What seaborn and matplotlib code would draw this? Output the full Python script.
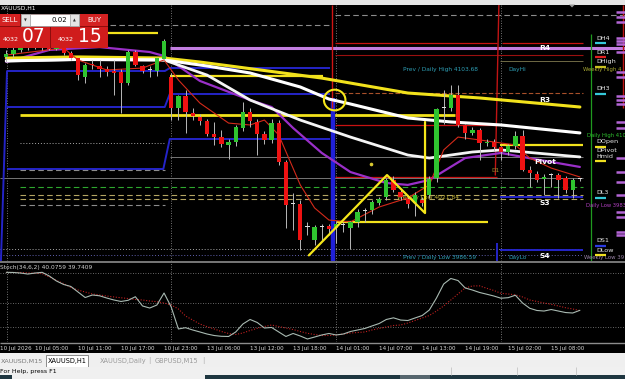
import numpy as np
import matplotlib
matplotlib.use("Agg")
import matplotlib.pyplot as plt
import matplotlib.transforms as mtransforms
from matplotlib.patches import Rectangle, Ellipse, Polygon
import seaborn as sns

# ---------------- data (H1 XAUUSD) ----------------
bars = list(range(81))
opens = [4112.0, 4114.0, 4116.0, 4118.5, 4119.5, 4117.5, 4118.5, 4117.0, 4118.1, 4114.4,
         4111.2, 4099.3, 4107.5, 4106.2, 4104.3, 4103.0, 4102.4, 4095.5, 4115.0, 4106.2,
         4103.5, 4103.0, 4110.6, 4099.3, 4079.8, 4087.3, 4076.6, 4074.1, 4071.6, 4063.4,
         4061.5, 4056.5, 4058.4, 4067.2, 4077.3, 4071.0, 4063.4, 4059.7, 4070.3, 4045.8,
         4019.6, 4019.4, 4005.2, 3996.8, 4004.9, 4005.6, 4004.3, 4006.2, 4004.3, 4008.1,
         4015.0, 4015.6, 4020.0, 4023.8, 4034.5, 4027.0, 4022.5, 4020.0, 4021.9, 4025.1,
         4035.8, 4079.8, 4079.8, 4088.0, 4069.1, 4064.1, 4066.0, 4057.8, 4058.4, 4055.3,
         4052.1, 4055.9, 4062.2, 4040.8, 4038.3, 4035.1, 4037.5, 4037.6, 4035.8, 4028.2,
         4035.0]
highs = [4116.0, 4118.0, 4120.0, 4121.0, 4122.0, 4120.5, 4121.0, 4120.0, 4120.0, 4115.5,
         4112.0, 4108.0, 4110.0, 4110.0, 4106.0, 4110.0, 4104.0, 4116.3, 4116.0, 4107.0,
         4106.0, 4112.0, 4123.2, 4101.8, 4088.0, 4091.0, 4080.0, 4076.0, 4073.0, 4071.0,
         4066.0, 4060.0, 4069.0, 4083.5, 4080.0, 4073.0, 4065.0, 4073.0, 4072.0, 4047.0,
         4026.0, 4022.0, 4008.0, 4006.0, 4007.0, 4007.0, 4009.0, 4008.0, 4009.0, 4016.0,
         4017.0, 4022.0, 4024.0, 4036.0, 4037.0, 4029.0, 4024.0, 4027.0, 4024.0, 4037.0,
         4080.0, 4091.0, 4094.0, 4094.0, 4070.0, 4068.0, 4067.0, 4060.0, 4060.0, 4056.0,
         4057.0, 4065.0, 4066.0, 4043.0, 4040.0, 4038.0, 4039.0, 4039.0, 4037.0, 4036.0,
         4036.0]
lows = [4109.0, 4112.0, 4115.0, 4116.5, 4117.0, 4116.5, 4116.5, 4116.0, 4113.0, 4110.0,
        4097.4, 4095.5, 4104.0, 4099.3, 4100.0, 4088.0, 4076.6, 4094.2, 4106.0, 4102.0,
        4099.0, 4100.0, 4110.0, 4072.0, 4072.2, 4064.1, 4072.0, 4069.0, 4062.0, 4056.5,
        4055.0, 4047.5, 4056.0, 4065.0, 4068.0, 4050.2, 4057.0, 4058.0, 4044.0, 4004.3,
        4003.1, 3990.5, 4000.0, 3993.6, 3997.0, 4000.0, 3995.0, 4002.0, 3991.0, 4005.0,
        4008.0, 4013.0, 4019.0, 4022.0, 4027.0, 4022.0, 4017.0, 4012.0, 4018.0, 4023.0,
        4033.0, 4070.0, 4078.0, 4068.0, 4060.0, 4063.0, 4047.1, 4056.0, 4053.0, 4047.0,
        4050.0, 4054.0, 4040.0, 4030.0, 4033.0, 4025.0, 4030.0, 4023.0, 4026.0, 4023.0,
        4034.0]
closes = [4114.0, 4116.0, 4118.5, 4119.5, 4117.5, 4118.5, 4117.0, 4118.0, 4114.4, 4111.2,
          4100.5, 4106.8, 4107.0, 4104.3, 4102.4, 4101.8, 4095.5, 4115.0, 4106.8, 4103.0,
          4103.8, 4111.2, 4122.0, 4079.8, 4087.3, 4077.3, 4074.7, 4071.6, 4063.4, 4061.5,
          4057.1, 4058.4, 4067.8, 4077.3, 4071.6, 4063.4, 4059.7, 4070.3, 4045.8, 4018.8,
          4019.2, 3996.8, 4004.9, 4004.9, 4005.1, 4003.7, 4006.8, 4006.4, 4008.1, 4014.4,
          4015.2, 4020.6, 4022.5, 4034.5, 4028.2, 4023.8, 4019.4, 4025.1, 4020.0, 4035.1,
          4079.2, 4080.0, 4088.0, 4069.1, 4064.1, 4066.0, 4057.8, 4058.4, 4055.3, 4052.1,
          4055.9, 4062.2, 4040.8, 4038.9, 4034.5, 4036.4, 4037.7, 4034.5, 4028.2, 4034.5,
          4035.1]

# moving averages (bar index, price)
ma_white1_x = [0, 10, 22, 28, 34, 41, 45, 48, 56, 62, 69, 80]
ma_white1_y = [4109.4, 4110.3, 4110.0, 4106.2, 4101.8, 4093.0, 4085.4, 4082.3, 4073.5, 4071.0, 4069.1, 4064.1]
ma_white2_x = [0, 10, 22, 28, 34, 41, 48, 56, 59, 65, 69, 80]
ma_white2_y = [4109.4, 4110.3, 4110.0, 4100.5, 4084.8, 4072.2, 4061.5, 4050.2, 4048.3, 4052.1, 4053.4, 4049.0]
ma_yellow_x = [0, 10, 22, 27, 44, 56, 66, 80]
ma_yellow_y = [4111.2, 4111.9, 4111.2, 4108.7, 4098.6, 4089.2, 4086.1, 4080.4]
ma_purple_x = [0, 6, 13, 20, 22, 27, 34, 37, 40, 44, 48, 53, 56, 59, 64, 69, 72, 80]
ma_purple_y = [4108.7, 4116.3, 4118.1, 4115.0, 4112.5, 4096.8, 4084.8, 4080.4, 4067.2, 4051.5,
               4039.5, 4032.6, 4031.4, 4034.5, 4048.3, 4051.5, 4049.0, 4042.7]
ma_red_x = [0, 8, 10, 14, 19, 22, 24, 27, 31, 34, 36, 38, 41, 43, 45, 48, 52, 56, 59, 61, 63, 66, 71, 73, 76, 80]
ma_red_y = [4113.1, 4117.5, 4110.0, 4103.7, 4104.9, 4110.0, 4097.4, 4082.9, 4070.3, 4069.1, 4072.2,
            4062.8, 4031.4, 4016.9, 4009.3, 4008.1, 4017.5, 4023.2, 4031.4, 4053.4, 4061.5, 4059.7,
            4056.5, 4048.3, 4042.0, 4036.4]

# stochastic (34,6,2)
stoch_main = [88.2, 88.0, 87.3, 86.0, 87.3, 88.2, 83.5, 77.2, 72.8, 70.3,
              63.3, 56.3, 59.5, 58.5, 55.7, 53.2, 51.3, 52.8, 57.3, 45.6,
              43.0, 46.8, 62.0, 44.3, 16.5, 18.1, 15.2, 12.7, 10.1, 8.2,
              7.2, 7.0, 12.7, 22.8, 28.5, 24.7, 17.7, 18.4, 12.7, 7.0,
              10.8, 7.6, 3.8, 6.3, 8.9, 10.8, 8.9, 10.1, 13.3, 15.2,
              17.1, 20.3, 23.4, 28.5, 30.6, 27.8, 27.2, 30.4, 33.5, 40.5,
              55.7, 73.4, 80.4, 77.8, 68.4, 65.8, 62.7, 60.5, 58.2, 55.4,
              56.1, 59.2, 49.4, 42.7, 39.9, 39.2, 41.1, 39.2, 37.3, 36.7,
              40.1]
stoch_signal = [88.0, 88.0, 88.0, 87.5, 87.0, 86.6, 82.3, 77.8, 74.0, 69.0,
                65.8, 63.3, 60.8, 59.5, 58.2, 57.0, 56.0, 55.0, 53.8, 53.2,
                51.9, 51.0, 49.4, 46.8, 41.8, 32.9, 27.8, 22.8, 19.4, 16.5,
                13.3, 10.8, 9.5, 11.4, 14.6, 17.3, 19.6, 21.5, 19.6, 17.7,
                15.8, 13.3, 11.0, 9.5, 8.2, 8.2, 8.9, 10.1, 11.4, 12.0,
                12.7, 15.2, 17.1, 19.0, 20.9, 21.5, 24.0, 27.2, 30.4, 33.5,
                39.2, 45.6, 53.2, 60.8, 68.4, 70.9, 71.1, 68.0, 65.2, 61.6,
                60.8, 59.7, 57.0, 53.2, 51.3, 49.4, 47.7, 45.6, 43.4, 41.8,
                39.7]

# horizontal level lines: price, first bar, last bar
lvl_price = [4138.3, 4132.0, 4126.9, 4120.7, 4120.7, 4117.5, 4113.1, 4109.3, 4104.9, 4103.0,
             4099.9, 4089.2, 4088.6, 4080.4, 4075.4, 4069.1, 4060.3, 4057.8, 4056.5, 4049.0,
             4041.4, 4040.8, 4036.4, 4035.8, 4030.1, 4025.1, 4022.5, 4023.8, 4018.8, 4008.1,
             3991.1, 3990.5, 3987.1]
lvl_start = [45.8, 14.5, 14.0, 45.8, 69.1, 22.8, 45.8, 68.9, 22.8, 0.1,
             22.8, 45.8, 22.8, 0.1, 1.9, 45.8, 22.8, 1.9, 68.9, 22.8,
             0.1, 1.9, 45.8, -0.9, 1.9, 1.9, 1.9, 68.9, 1.9, 46.1,
             -0.9, 68.9, -0.9]
lvl_end = [86.3, 45.1, 21.2, 68.4, 80.4, 86.3, 80.4, 80.4, 45.1, 22.1,
           44.2, 80.4, 45.1, 22.1, 62.6, 68.4, 45.1, 22.1, 80.4, 80.4,
           21.9, 22.1, 68.4, 80.4, 80.4, 80.4, 80.4, 80.4, 22.1, 67.2,
           80.4, 80.4, 80.4]
lvl_kind = ["gdash", "gdash", "yel", "red", "red", "purp", "dred", "thin", "blue", "blue",
            "yel", "brown", "blue", "blue", "yelw", "red", "blue", "dot", "yel", "grey",
            "blue", "gdash", "red", "grey", "green", "khaki", "khaki", "blue", "gdash", "yel",
            "dot", "blue", "bdot"]

# step connectors of the blue channel (bar, price pairs)
blue_steps = [([-0.75, 0.1], [3983.5, 4103.0]), ([21.9, 22.8], [4041.4, 4060.3]),
              ([22.1, 22.8], [4080.4, 4088.6]), ([22.1, 22.8], [4103.0, 4104.9])]

# hand drawn annotation
zig_x = [42.2, 53.1, 58.4, 58.4]
zig_y = [3987.1, 4037.6, 4013.7, 4071.0]
circle_xy = (45.8, 4084.8)

time_idx = [-0.85, 4, 10, 16, 22, 28, 34, 40, 46, 52, 58, 64, 70, 76]
time_labels = ["10 Jul 2026", "10 Jul 05:00", "10 Jul 11:00", "10 Jul 17:00", "10 Jul 23:00",
               "13 Jul 06:00", "13 Jul 12:00", "13 Jul 18:00", "14 Jul 01:00", "14 Jul 07:00",
               "14 Jul 13:00", "14 Jul 19:00", "15 Jul 02:00", "15 Jul 08:00"]

# ---------------- style ----------------
sns.set_theme(style="dark", rc={"axes.facecolor": "black", "figure.facecolor": "black",
                                 "axes.grid": False, "axes.edgecolor": "black"})
NARROW = ["Liberation Sans Narrow", "DejaVu Sans"]
plt.rcParams["font.family"] = NARROW

W, H = 625, 379
X0, BARPX = 6.3, 7.17
XL = ((0 - X0) / BARPX, (W - X0) / BARPX)
YL = (3983.54, 4144.57)

fig = plt.figure(figsize=(6.25, 3.79), dpi=100)


def px_axes(x0, y0, x1, y1):
    return fig.add_axes([x0 / W, 1 - y1 / H, (x1 - x0) / W, (y1 - y0) / H])


ax = px_axes(0, 5, 625, 261)
axs = px_axes(0, 263, 625, 342)
ov = px_axes(0, 0, 625, 379)
ov.set_xlim(0, W)
ov.set_ylim(H, 0)
ov.axis("off")
ov.set_zorder(10)

STY = {
    "gdash": dict(color="#8c8c8c", ls=(0, (5, 3)), lw=0.8),
    "yel": dict(color="#f2e21c", ls="-", lw=1.6),
    "yelw": dict(color="#f2e21c", ls="-", lw=2.0),
    "red": dict(color="#c81212", ls="-", lw=0.9),
    "dred": dict(color="#9a1010", ls="-", lw=0.8),
    "purp": dict(color="#c27ee0", ls="-", lw=2.2),
    "thin": dict(color="#807a50", ls="-", lw=0.6),
    "blue": dict(color="#2424c8", ls="-", lw=1.4),
    "brown": dict(color="#a8502a", ls=(0, (4, 2)), lw=0.8),
    "dot": dict(color="#a8a8a8", ls=(0, (1, 2)), lw=0.7),
    "grey": dict(color="#767676", ls="-", lw=0.7),
    "green": dict(color="#2ea82e", ls=(0, (5, 3)), lw=0.8),
    "khaki": dict(color="#b4a462", ls=(0, (5, 3)), lw=0.8),
    "bdot": dict(color="#6060b0", ls=(0, (1, 2)), lw=0.7),
}

# ---------------- main window ----------------
for p, s, e, k in zip(lvl_price, lvl_start, lvl_end, lvl_kind):
    ax.hlines(p, s, e, zorder=1, **STY[k])
for xs, ys in blue_steps:
    ax.plot(xs, ys, color="#2424c8", lw=1.4, zorder=1)

# vertical markers
ax.vlines(45.6, YL[0], 4086.0, color="#2020d8", lw=3.2, zorder=1.2)
ax.vlines(45.4, 4080.0, YL[1], color="#d01414", lw=1.0, zorder=1.2)
ax.plot([68.7, 68.2], [YL[1], 4037.6], color="#c01414", lw=1.0, zorder=1.2)
ax.vlines(68.4, YL[0], 3994.8, color="#2424c8", lw=1.4, zorder=1.2)
ax.vlines(81.5, YL[0], 4126.3, color="#1f9a1f", lw=0.9, zorder=1.2)
ax.vlines(86.0, 4080.0, YL[1], color="#c01414", lw=1.0, zorder=1.2)
for g in [0.1, 23, 46, 69]:
    ax.axvline(g, color="#9a9a9a", ls=(0, (1, 2)), lw=0.6, zorder=0.5)
    axs.axvline(g, color="#9a9a9a", ls=(0, (1, 2)), lw=0.6, zorder=0.5)

# moving averages
sns.lineplot(x=ma_purple_x, y=ma_purple_y, ax=ax, color="#9a2fc8", linewidth=1.6, estimator=None, sort=False, zorder=2)
sns.lineplot(x=ma_yellow_x, y=ma_yellow_y, ax=ax, color="#f2e21c", linewidth=2.2, estimator=None, sort=False, zorder=2.1)
sns.lineplot(x=ma_white2_x, y=ma_white2_y, ax=ax, color="#f4f4f4", linewidth=2.0, estimator=None, sort=False, zorder=2.2)
sns.lineplot(x=ma_white1_x, y=ma_white1_y, ax=ax, color="#ffffff", linewidth=2.2, estimator=None, sort=False, zorder=2.3)
sns.lineplot(x=ma_red_x, y=ma_red_y, ax=ax, color="#d42a1a", linewidth=0.8, estimator=None, sort=False, zorder=2.4)

# candles
o = np.array(opens)
c = np.array(closes)
hi = np.array(highs)
lo = np.array(lows)
xb = np.array(bars)
ax.vlines(xb, lo, hi, color="#b8b8b8", lw=0.7, zorder=3)
body_h = np.maximum(np.abs(c - o), 0.7)
body_b = np.minimum(o, c)
cols = np.where(np.abs(c - o) < 0.5, "#dcdcdc", np.where(c >= o, "#2fc42f", "#ee1212"))
ax.bar(xb, body_h, bottom=body_b, width=0.6, color=cols, linewidth=0, zorder=4)

# annotations
ax.plot(zig_x, zig_y, color="#f5e61a", lw=1.6, zorder=5)
ax.add_patch(Ellipse(circle_xy, 3.0, 13.0, fill=False, ec="#f5e61a", lw=1.5, zorder=5))
ax.plot([50.8], [4044.5], marker="o", ms=1.6, color="#d8c830", zorder=5)

# label partly hidden behind the candles
ax.text(397, 198, "Weekly Low 4021.84", transform=ov.transData, fontsize=4.3, color="#c8b838",
        ha="left", va="center", zorder=1.5, clip_on=False)

# ---------------- stochastic window ----------------
for v in [87.3, 49.4, 19.0]:
    axs.axhline(v, color="#8a8a8a", ls=(0, (1, 2)), lw=0.6, zorder=0.5)
sns.lineplot(x=bars, y=stoch_signal, ax=axs, color="#c02020", linewidth=0.8, linestyle=(0, (1, 1.5)),
             estimator=None, sort=False, zorder=2)
sns.lineplot(x=bars, y=stoch_main, ax=axs, color="#a9bab2", linewidth=0.8, estimator=None, sort=False, zorder=3)

tr = mtransforms.blended_transform_factory(axs.transData, axs.transAxes)
for idx, lab in zip(time_idx, time_labels):
    axs.text(idx, -0.078, lab, transform=tr, ha="left", va="center", fontsize=4.1, color="#d8d8d8",
             clip_on=False)

for a, yl in ((ax, YL), (axs, (0, 100))):
    a.set_xlim(XL)
    a.set_ylim(yl)
    a.set_xticks([])
    a.set_yticks([])
    a.set_xlabel("")
    a.set_ylabel("")
    a.set_facecolor("black")
    for sp in a.spines.values():
        sp.set_visible(False)

# ---------------- overlay (pixel coordinates) ----------------
chart_labels = [("Prev / Daily High 4103.68", 403, 70, "#2e9fb5", 4.2), ("DayHi", 508, 70, "#2e9fb5", 4.2),
                ("Weekly High 4", 583, 70, "#a8a832", 3.9), ("Prev / Daily Low 3986.59", 403, 258, "#2e9fb5", 4.2),
                ("DayLo", 508, 258, "#2e9fb5", 4.2), ("Weekly Low 39", 584, 257.5, "#9a84a8", 3.9),
                ("Daily High 410", 587, 135, "#2ec02e", 3.8),
                ("Daily Low 3983", 586, 205, "#b040c0", 3.8), ("D1", 491, 170, "#a09030", 4.2)]
for s, xp, yp, col, fs in chart_labels:
    ov.text(xp, yp, s, fontsize=fs, color=col, ha="left", va="center", zorder=1)

for s, yp in [("R4", 48), ("R3", 100), ("Pivot", 162), ("S3", 203), ("S4", 256)]:
    ov.text(545, yp, s, fontsize=5.4, color="white", fontweight="bold",
            family="DejaVu Sans", ha="center", va="center", zorder=2)

ov.add_patch(Rectangle((0, 0), 625, 4.5, fc="#e6e6e6", ec="none"))
ov.add_patch(Polygon([(569, 4.5), (575, 4.5), (572, 7.5)], fc="#9a9a9a", ec="none"))
ov.text(1, 8.5, "XAUUSD,H1", fontsize=4.3, color="white", va="center")
ov.hlines(261.6, 0, 625, color="#8c8c8c", lw=1.2)
ov.hlines(342.6, 0, 625, color="#8c8c8c", lw=1.0)
ov.text(0.5, 267.5, "Stoch(34,6,2) 40.0759 39.7409", fontsize=4.2, color="#cfcfcf", va="center")

# trade panel
ov.add_patch(Rectangle((0, 13.5), 108, 34.5, fc="#8e0c0c", ec="none"))
ov.add_patch(Rectangle((0, 14), 20, 12, fc="#d42222", ec="none"))
ov.add_patch(Rectangle((21, 14), 58, 12, fc="white", ec="#9a9a9a", lw=0.5))
ov.add_patch(Rectangle((21, 14), 9, 12, fc="#e4e4e4", ec="#9a9a9a", lw=0.5))
ov.add_patch(Rectangle((70, 14), 9, 12, fc="#e4e4e4", ec="#9a9a9a", lw=0.5))
ov.add_patch(Rectangle((80, 14), 28, 12, fc="#d42222", ec="none"))
ov.text(1, 20.5, "SELL", fontsize=5, color="white", va="center")
ov.text(25.5, 20.5, "\u25bc", fontsize=2.6, color="#303030", va="center", ha="center", family="DejaVu Sans")
ov.text(74.5, 20.5, "\u25b2", fontsize=2.6, color="#303030", va="center", ha="center", family="DejaVu Sans")
ov.text(67, 20.5, "0.02", fontsize=5, color="black", va="center", ha="right")
ov.text(94, 20.5, "BUY", fontsize=5, color="white", va="center", ha="center")
ov.add_patch(Rectangle((0, 27), 49.5, 20.5, fc="#d01c1c", ec="none"))
ov.add_patch(Rectangle((51, 27), 57, 20.5, fc="#d01c1c", ec="none"))
ov.text(3, 39.5, "4032", fontsize=4.6, color="white", va="center")
ov.text(22, 37, "07", fontsize=13.5, color="white", va="center")
ov.text(58, 39.5, "4032", fontsize=4.6, color="white", va="center")
ov.text(78, 37, "15", fontsize=13.5, color="white", va="center")

# right-hand level tags
right_tags = [("DH4", 38, "#35c8d8"), ("DR1", 52, "#e02020"), ("DHigh", 62, "#c8c020"),
              ("DH3", 89, "#35c8d8"), ("DOpen", 142, "#f0e020"), ("DPivot", 151, None),
              ("Hmid", 156, "#f0e020"), ("DL3", 193, "#35c8d8"), ("DS1", 241, "#2a3ae0"),
              ("DLow", 250, "#f0e020")]
for s, yp, mc in right_tags:
    ov.text(596, yp, s, fontsize=4.6, color="#e8e8e8", va="center")
    if mc:
        ov.hlines(yp + 4.5, 595, 606, color=mc, lw=1.6)
purple_marks = [12, 17, 22, 38, 41, 44, 52, 72, 77, 96, 100, 104, 122, 128, 158, 172, 182, 195, 212, 217, 232, 235]
ov.hlines(purple_marks, 616, 625, color="#b466d6", lw=1.8, zorder=0.5)

# tab bar and status bar
ov.add_patch(Rectangle((0, 352.5), 625, 14, fc="#efefef", ec="none"))
ov.add_patch(Rectangle((46, 355), 42, 12, fc="white", ec="#7a7a7a", lw=0.6))
ov.text(0.5, 361, "XAUUSD,M15", fontsize=4.6, color="#7a7a7a", va="center")
ov.text(67, 361, "XAUUSD,H1", fontsize=4.8, color="black", va="center", ha="center")
ov.text(100, 361, "XAUUSD,Daily", fontsize=4.8, color="#9a9a9a", va="center")
ov.text(148, 361, "|", fontsize=5, color="#b0b0b0", va="center")
ov.text(155, 361, "GBPUSD,M15", fontsize=4.8, color="#9a9a9a", va="center")
ov.text(202, 361, "|", fontsize=5, color="#b0b0b0", va="center")
ov.add_patch(Rectangle((0, 366.5), 625, 13, fc="#f0f0f0", ec="none"))
ov.text(0.5, 371.5, "For Help, press F1", fontsize=4.5, color="black", va="center")
ov.vlines([451, 517, 576], 367, 375, color="#c4c4c4", lw=0.6)
ov.add_patch(Rectangle((205, 375), 420, 4, fc="#1e3640", ec="none"))
ov.add_patch(Rectangle((400, 375), 30, 4, fc="#56666e", ec="none"))
ov.add_patch(Rectangle((0, 375), 12, 4, fc="#1e3640", ec="none"))

fig.savefig("out.png", dpi=100, facecolor="black")
